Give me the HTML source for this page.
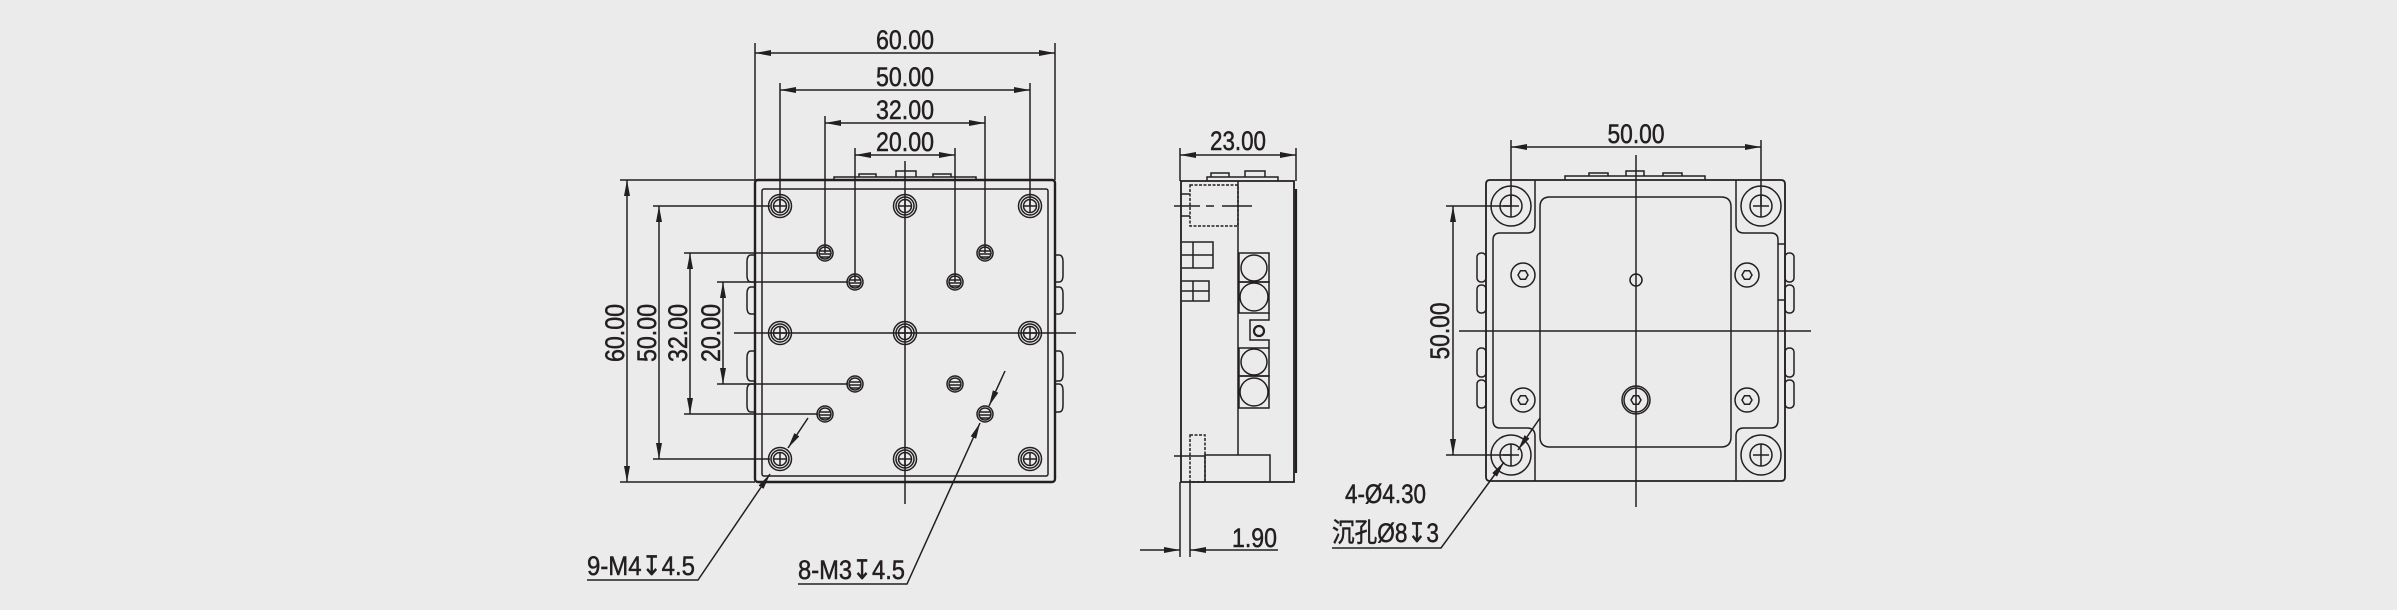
<!DOCTYPE html>
<html><head><meta charset="utf-8"><style>
html,body{margin:0;padding:0;background:#ebebeb;}
svg{display:block;}
text{font-family:"Liberation Sans Narrow","Liberation Sans","Noto Sans CJK SC",sans-serif;font-size:27px;fill:#231f20;stroke:#231f20;stroke-width:0.5;}
</style></head><body>
<svg width="2397" height="610" viewBox="0 0 2397 610" xmlns="http://www.w3.org/2000/svg">
<defs>
<marker id="a" viewBox="0 0 16 6" refX="16" refY="3" markerWidth="16" markerHeight="6" markerUnits="userSpaceOnUse" orient="auto-start-reverse"><path d="M0,0 L16,3 L0,6 Z" fill="#231f20" stroke="none"/></marker>
<g id="m4"><circle r="11.5"/><circle r="9"/><circle r="6.5"/><line x1="-7" y1="0" x2="7" y2="0"/><line x1="0" y1="-7" x2="0" y2="7"/></g>
<g id="m3"><circle r="8"/><circle r="6"/><line x1="-6" y1="-2" x2="6" y2="-2"/><line x1="-6" y1="1" x2="6" y2="1"/><line x1="-5" y1="4" x2="5" y2="4"/></g>
<g id="ch"><circle r="20"/><circle r="11"/><line x1="-8" y1="0" x2="8" y2="0"/><line x1="0" y1="-11" x2="0" y2="11"/></g>
<g id="sh"><circle r="12"/><polygon points="5,0 2.5,4.3 -2.5,4.3 -5,0 -2.5,-4.3 2.5,-4.3"/></g>
</defs>
<rect width="2397" height="610" fill="#ebebeb"/>
<g fill="none" stroke="#231f20" stroke-width="1.5">
<!-- ===== Front view ===== -->
<line x1="755" y1="43" x2="755" y2="180"/><line x1="1055" y1="43" x2="1055" y2="180"/>
<line x1="780" y1="83" x2="780" y2="206"/><line x1="1030" y1="83" x2="1030" y2="206"/>
<line x1="825" y1="116" x2="825" y2="253"/><line x1="985" y1="116" x2="985" y2="253"/>
<line x1="855" y1="148" x2="855" y2="282"/><line x1="955" y1="148" x2="955" y2="282"/>
<line x1="755" y1="53" x2="1055" y2="53" marker-start="url(#a)" marker-end="url(#a)"/>
<line x1="780" y1="90" x2="1030" y2="90" marker-start="url(#a)" marker-end="url(#a)"/>
<line x1="825" y1="123" x2="985" y2="123" marker-start="url(#a)" marker-end="url(#a)"/>
<line x1="855" y1="155" x2="955" y2="155" marker-start="url(#a)" marker-end="url(#a)"/>
<rect x="755" y="180" width="300" height="302" rx="3" stroke-width="2.4"/>
<rect x="762" y="189" width="286" height="287" rx="2"/>
<path d="M834,180 V177 H976 V180"/><path d="M859,177 V174 H876 V177 M896,177 V171 H916 V177 M933,177 V174 H951 V177"/>
<g>
<path d="M755,255 H751 Q747,255 747,262 V275 Q747,282 751,282 H755"/><path d="M755,287 H751 Q747,287 747,294 V307 Q747,314 751,314 H755"/>
<path d="M755,351 H751 Q747,351 747,358 V374 Q747,381 751,381 H755"/><path d="M755,384 H751 Q747,384 747,391 V405 Q747,412 751,412 H755"/>
<path d="M1055,255 H1059 Q1063,255 1063,262 V275 Q1063,282 1059,282 H1055"/><path d="M1055,287 H1059 Q1063,287 1063,294 V307 Q1063,314 1059,314 H1055"/>
<path d="M1055,351 H1059 Q1063,351 1063,358 V374 Q1063,381 1059,381 H1055"/><path d="M1055,384 H1059 Q1063,384 1063,391 V405 Q1063,412 1059,412 H1055"/>
</g>
<line x1="620" y1="180" x2="755" y2="180"/><line x1="620" y1="482" x2="755" y2="482"/>
<line x1="653" y1="206" x2="770" y2="206"/><line x1="653" y1="459" x2="770" y2="459"/>
<line x1="684" y1="253" x2="818" y2="253"/><line x1="684" y1="414" x2="818" y2="414"/>
<line x1="717" y1="282" x2="848" y2="282"/><line x1="717" y1="384" x2="848" y2="384"/>
<line x1="627" y1="180" x2="627" y2="482" marker-start="url(#a)" marker-end="url(#a)"/>
<line x1="659" y1="206" x2="659" y2="459" marker-start="url(#a)" marker-end="url(#a)"/>
<line x1="690" y1="253" x2="690" y2="414" marker-start="url(#a)" marker-end="url(#a)"/>
<line x1="723" y1="282" x2="723" y2="384" marker-start="url(#a)" marker-end="url(#a)"/>
<line x1="905" y1="161" x2="905" y2="504"/><line x1="734" y1="333" x2="1076" y2="333"/>
<use href="#m4" x="780" y="206"/><use href="#m4" x="905" y="206"/><use href="#m4" x="1030" y="206"/>
<use href="#m4" x="780" y="333"/><use href="#m4" x="905" y="333"/><use href="#m4" x="1030" y="333"/>
<use href="#m4" x="780" y="459"/><use href="#m4" x="905" y="459"/><use href="#m4" x="1030" y="459"/>
<use href="#m3" x="825" y="253"/><use href="#m3" x="985" y="253"/>
<use href="#m3" x="855" y="282"/><use href="#m3" x="955" y="282"/>
<use href="#m3" x="855" y="384"/><use href="#m3" x="955" y="384"/>
<use href="#m3" x="825" y="414"/><use href="#m3" x="985" y="414"/>
<path d="M587,580 H698 L770,474" marker-end="url(#a)"/>
<line x1="808" y1="418" x2="788" y2="448" marker-end="url(#a)"/>
<path d="M798,584 H907 L980,423" marker-end="url(#a)"/>
<line x1="1005" y1="371" x2="989" y2="406" marker-end="url(#a)"/>

<!-- ===== Side view ===== -->
<line x1="1180" y1="148" x2="1180" y2="181"/><line x1="1296" y1="148" x2="1296" y2="181"/>
<line x1="1180" y1="155" x2="1296" y2="155" marker-start="url(#a)" marker-end="url(#a)"/>
<path d="M1181,181 H1294 V482 H1181 Z" stroke-width="1.8"/>
<line x1="1296" y1="189" x2="1296" y2="473" stroke-width="2.2"/>
<path d="M1207,181 V177 H1278 V181 M1211,177 V173 H1229 V177 M1245,177 V171 H1265 V177"/>
<path d="M1238,181 V455 H1205 V482 M1238,455 H1270 V482"/>
<rect x="1190" y="185" width="48" height="41" stroke-dasharray="3,1.5"/>
<path d="M1181,194 H1190 M1181,216 H1190"/>
<path d="M1174,206 H1200 M1206,206 H1214 M1222,206 H1252"/>
<path d="M1182,242 H1213 V268 H1182 M1193,242 V268 M1182,255 H1213"/>
<path d="M1182,281 H1209 V301 H1182 M1193,281 V301 M1182,291 H1209"/>
<rect x="1239" y="253" width="30" height="29"/><circle cx="1254" cy="268" r="13"/>
<rect x="1239" y="282" width="30" height="31"/><circle cx="1254" cy="297" r="14"/>
<path d="M1269,313 V320 H1250 V340 H1269 V348"/><circle cx="1259" cy="331" r="5" stroke-width="2.2"/>
<rect x="1239" y="348" width="30" height="28"/><circle cx="1254" cy="362" r="13"/>
<rect x="1239" y="376" width="30" height="32"/><circle cx="1254" cy="392" r="14"/>
<rect x="1190" y="435" width="15" height="47" stroke-dasharray="3,1.5"/>
<path d="M1174,456 H1205"/>
<line x1="1180" y1="482" x2="1180" y2="557"/><line x1="1190" y1="482" x2="1190" y2="557"/>
<line x1="1140" y1="550" x2="1180" y2="550" marker-end="url(#a)"/>
<line x1="1278" y1="550" x2="1190" y2="550" marker-end="url(#a)"/>

<!-- ===== Right view ===== -->
<line x1="1511" y1="140" x2="1511" y2="206"/><line x1="1761" y1="140" x2="1761" y2="206"/>
<line x1="1511" y1="147" x2="1761" y2="147" marker-start="url(#a)" marker-end="url(#a)"/>
<path d="M1490,180 H1781 Q1785,180 1785,184 V477 Q1785,481 1781,481 H1490 Q1486,481 1486,477 V184 Q1486,180 1490,180 Z" stroke-width="1.8"/>
<path d="M1565,180 V176 H1705 V180 M1589,176 V173 H1608 V176 M1626,176 V171 H1644 V176 M1663,176 V173 H1682 V176"/>
<path d="M1535,180 V225 Q1535,233 1527,233 H1500 Q1493,233 1493,240 V420 Q1493,428 1500,428 H1527 Q1535,428 1535,436 V481"/>
<path d="M1736,180 V225 Q1736,233 1744,233 H1771 Q1778,233 1778,240 V420 Q1778,428 1771,428 H1744 Q1736,428 1736,436 V481"/>
<path d="M1550,197 H1721 Q1731,197 1731,207 V437 Q1731,447 1721,447 H1550 Q1540,447 1540,437 V207 Q1540,197 1550,197 Z"/>
<line x1="1778" y1="244" x2="1785" y2="244"/><line x1="1778" y1="300" x2="1785" y2="300"/>
<rect x="1477" y="253" width="9" height="29" rx="4"/><rect x="1477" y="285" width="9" height="28" rx="4"/>
<rect x="1477" y="348" width="9" height="29" rx="4"/><rect x="1477" y="380" width="9" height="28" rx="4"/>
<rect x="1785" y="253" width="9" height="29" rx="4"/><rect x="1785" y="285" width="9" height="28" rx="4"/>
<rect x="1785" y="348" width="9" height="29" rx="4"/><rect x="1785" y="380" width="9" height="28" rx="4"/>
<use href="#ch" x="1511" y="206"/><use href="#ch" x="1761" y="206"/>
<use href="#ch" x="1511" y="455"/><use href="#ch" x="1761" y="455"/>
<use href="#sh" x="1523" y="275"/><use href="#sh" x="1747" y="275"/>
<use href="#sh" x="1523" y="400"/><use href="#sh" x="1747" y="400"/>
<use href="#sh" x="1636" y="400"/><circle cx="1636" cy="400" r="14"/>
<circle cx="1636" cy="280" r="6"/>
<line x1="1636" y1="155" x2="1636" y2="507"/><line x1="1459" y1="331" x2="1811" y2="331"/>
<line x1="1446" y1="206" x2="1511" y2="206"/><line x1="1446" y1="455" x2="1511" y2="455"/>
<line x1="1453" y1="206" x2="1453" y2="455" marker-start="url(#a)" marker-end="url(#a)"/>
<path d="M1332,548 H1441 L1504,462" marker-end="url(#a)"/>
<line x1="1540" y1="418" x2="1518" y2="450" marker-end="url(#a)"/>
</g>
<text x="905" y="49" text-anchor="middle" textLength="58" lengthAdjust="spacingAndGlyphs">60.00</text>
<text x="905" y="86" text-anchor="middle" textLength="58" lengthAdjust="spacingAndGlyphs">50.00</text>
<text x="905" y="119" text-anchor="middle" textLength="58" lengthAdjust="spacingAndGlyphs">32.00</text>
<text x="905" y="151" text-anchor="middle" textLength="58" lengthAdjust="spacingAndGlyphs">20.00</text>
<text transform="translate(624,333) rotate(-90)" text-anchor="middle" textLength="58" lengthAdjust="spacingAndGlyphs">60.00</text>
<text transform="translate(656,333) rotate(-90)" text-anchor="middle" textLength="58" lengthAdjust="spacingAndGlyphs">50.00</text>
<text transform="translate(687,333) rotate(-90)" text-anchor="middle" textLength="58" lengthAdjust="spacingAndGlyphs">32.00</text>
<text transform="translate(720,333) rotate(-90)" text-anchor="middle" textLength="58" lengthAdjust="spacingAndGlyphs">20.00</text>
<text x="587" y="575" textLength="108" lengthAdjust="spacingAndGlyphs">9-M4↧4.5</text>
<text x="798" y="579" textLength="107" lengthAdjust="spacingAndGlyphs">8-M3↧4.5</text>
<text x="1238" y="150" text-anchor="middle" textLength="56" lengthAdjust="spacingAndGlyphs">23.00</text>
<text x="1232" y="547" textLength="45" lengthAdjust="spacingAndGlyphs">1.90</text>
<text x="1636" y="143" text-anchor="middle" textLength="57" lengthAdjust="spacingAndGlyphs">50.00</text>
<text transform="translate(1449,331) rotate(-90)" text-anchor="middle" textLength="57" lengthAdjust="spacingAndGlyphs">50.00</text>
<text x="1345" y="503" textLength="81" lengthAdjust="spacingAndGlyphs">4-Ø4.30</text>
<text x="1332" y="542" textLength="107" lengthAdjust="spacingAndGlyphs">沉孔Ø8↧3</text>
</svg>
</body></html>
